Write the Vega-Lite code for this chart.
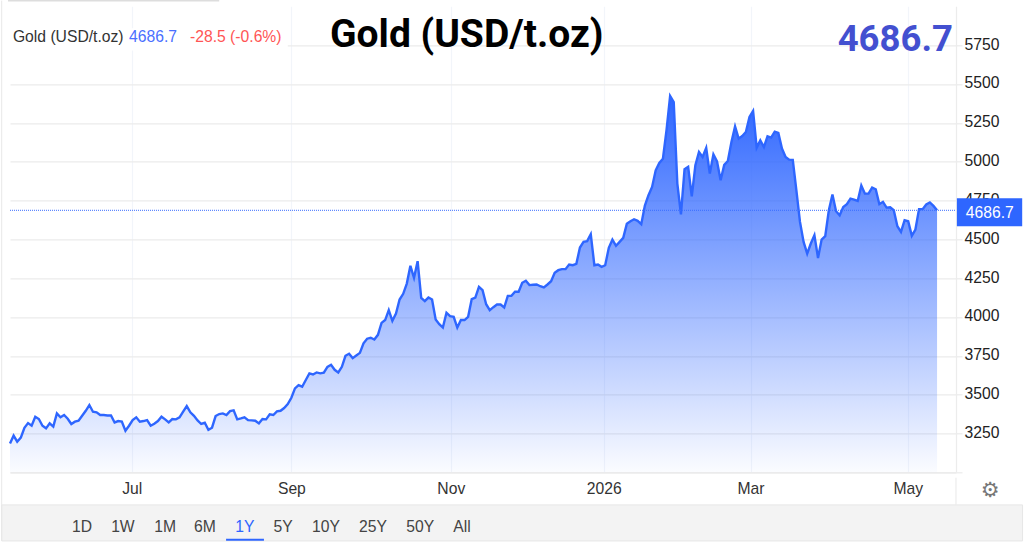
{
  "$schema": "https://vega.github.io/schema/vega-lite/v6.json",
  "description": "Gold (USD/t.oz), one year of sessions up to May 2026",
  "width": 946,
  "height": 466,
  "autosize": "none",
  "padding": {"left": 10, "top": 6.3, "right": 68, "bottom": 74.7},
  "background": "white",
  "config": {"view": {"stroke": null}, "font": "Liberation Sans"},
  "datasets": {
    "one": [{}],
    "gold": [
      {"i":0,"v":3186},{"i":1,"v":3236},{"i":2,"v":3197},{"i":3,"v":3223},{"i":4,"v":3287},{"i":5,"v":3317},{"i":6,"v":3300},{"i":7,"v":3358},{"i":8,"v":3343},{"i":9,"v":3300},
      {"i":10,"v":3283},{"i":11,"v":3315},{"i":12,"v":3294},{"i":13,"v":3379},{"i":14,"v":3354},{"i":15,"v":3369},{"i":16,"v":3345},{"i":17,"v":3311},{"i":18,"v":3326},{"i":19,"v":3332},
      {"i":20,"v":3364},{"i":21,"v":3396},{"i":22,"v":3433},{"i":23,"v":3390},{"i":24,"v":3386},{"i":25,"v":3369},{"i":26,"v":3369},{"i":27,"v":3366},{"i":28,"v":3366},{"i":29,"v":3321},
      {"i":30,"v":3330},{"i":31,"v":3326},{"i":32,"v":3268},{"i":33,"v":3300},{"i":34,"v":3336},{"i":35,"v":3354},{"i":36,"v":3326},{"i":37,"v":3330},{"i":38,"v":3336},{"i":39,"v":3300},
      {"i":40,"v":3313},{"i":41,"v":3330},{"i":42,"v":3358},{"i":43,"v":3341},{"i":44,"v":3321},{"i":45,"v":3343},{"i":46,"v":3341},{"i":47,"v":3354},{"i":48,"v":3390},{"i":49,"v":3426},
      {"i":50,"v":3386},{"i":51,"v":3364},{"i":52,"v":3334},{"i":53,"v":3311},{"i":54,"v":3319},{"i":55,"v":3274},{"i":56,"v":3287},{"i":57,"v":3362},{"i":58,"v":3375},{"i":59,"v":3379},
      {"i":60,"v":3369},{"i":61,"v":3394},{"i":62,"v":3399},{"i":63,"v":3341},{"i":64,"v":3347},{"i":65,"v":3354},{"i":66,"v":3336},{"i":67,"v":3334},{"i":68,"v":3332},{"i":69,"v":3315},
      {"i":70,"v":3343},{"i":71,"v":3341},{"i":72,"v":3373},{"i":73,"v":3369},{"i":74,"v":3392},{"i":75,"v":3396},{"i":76,"v":3414},{"i":77,"v":3439},{"i":78,"v":3480},{"i":79,"v":3540},
      {"i":80,"v":3561},{"i":81,"v":3551},{"i":82,"v":3594},{"i":83,"v":3637},{"i":84,"v":3630},{"i":85,"v":3643},{"i":86,"v":3637},{"i":87,"v":3641},{"i":88,"v":3679},{"i":89,"v":3692},
      {"i":90,"v":3660},{"i":91,"v":3643},{"i":92,"v":3679},{"i":93,"v":3750},{"i":94,"v":3763},{"i":95,"v":3735},{"i":96,"v":3752},{"i":97,"v":3769},{"i":98,"v":3830},{"i":99,"v":3860},
      {"i":100,"v":3866},{"i":101,"v":3855},{"i":102,"v":3885},{"i":103,"v":3962},{"i":104,"v":3980},{"i":105,"v":4044},{"i":106,"v":3975},{"i":107,"v":4022},{"i":108,"v":4112},{"i":109,"v":4149},
      {"i":110,"v":4215},{"i":111,"v":4329},{"i":112,"v":4252},{"i":113,"v":4359},{"i":114,"v":4123},{"i":115,"v":4102},{"i":116,"v":4125},{"i":117,"v":4112},{"i":118,"v":3984},{"i":119,"v":3954},
      {"i":120,"v":3932},{"i":121,"v":4027},{"i":122,"v":4005},{"i":123,"v":4001},{"i":124,"v":3932},{"i":125,"v":3980},{"i":126,"v":3980},{"i":127,"v":4001},{"i":128,"v":4115},{"i":129,"v":4125},
      {"i":130,"v":4194},{"i":131,"v":4172},{"i":132,"v":4082},{"i":133,"v":4044},{"i":134,"v":4063},{"i":135,"v":4080},{"i":136,"v":4080},{"i":137,"v":4061},{"i":138,"v":4136},{"i":139,"v":4136},
      {"i":140,"v":4162},{"i":141,"v":4162},{"i":142,"v":4220},{"i":143,"v":4233},{"i":144,"v":4205},{"i":145,"v":4207},{"i":146,"v":4209},{"i":147,"v":4198},{"i":148,"v":4190},{"i":149,"v":4209},
      {"i":150,"v":4230},{"i":151,"v":4284},{"i":152,"v":4301},{"i":153,"v":4308},{"i":154,"v":4308},{"i":155,"v":4338},{"i":156,"v":4333},{"i":157,"v":4342},{"i":158,"v":4447},{"i":159,"v":4483},
      {"i":160,"v":4488},{"i":161,"v":4533},{"i":162,"v":4333},{"i":163,"v":4338},{"i":164,"v":4323},{"i":165,"v":4333},{"i":166,"v":4445},{"i":167,"v":4498},{"i":168,"v":4458},{"i":169,"v":4483},
      {"i":170,"v":4509},{"i":171,"v":4600},{"i":172,"v":4616},{"i":173,"v":4629},{"i":174,"v":4619},{"i":175,"v":4597},{"i":176,"v":4717},{"i":177,"v":4784},{"i":178,"v":4837},{"i":179,"v":4944},
      {"i":180,"v":4992},{"i":181,"v":5019},{"i":182,"v":5202},{"i":183,"v":5423},{"i":184,"v":5384},{"i":185,"v":4859},{"i":186,"v":4661},{"i":187,"v":4951},{"i":188,"v":4966},{"i":189,"v":4777},
      {"i":190,"v":4977},{"i":191,"v":5062},{"i":192,"v":5030},{"i":193,"v":5088},{"i":194,"v":4923},{"i":195,"v":5047},{"i":196,"v":5002},{"i":197,"v":4880},{"i":198,"v":4979},{"i":199,"v":5004},
      {"i":200,"v":5127},{"i":201,"v":5227},{"i":202,"v":5148},{"i":203,"v":5165},{"i":204,"v":5191},{"i":205,"v":5287},{"i":206,"v":5326},{"i":207,"v":5090},{"i":208,"v":5137},{"i":209,"v":5094},
      {"i":210,"v":5163},{"i":211,"v":5155},{"i":212,"v":5193},{"i":213,"v":5185},{"i":214,"v":5084},{"i":215,"v":5030},{"i":216,"v":5013},{"i":217,"v":5011},{"i":218,"v":4815},{"i":219,"v":4612},
      {"i":220,"v":4483},{"i":221,"v":4408},{"i":222,"v":4473},{"i":223,"v":4526},{"i":224,"v":4380},{"i":225,"v":4498},{"i":226,"v":4520},{"i":227,"v":4687},{"i":228,"v":4788},{"i":229,"v":4681},
      {"i":230,"v":4655},{"i":231,"v":4708},{"i":232,"v":4726},{"i":233,"v":4762},{"i":234,"v":4756},{"i":235,"v":4747},{"i":236,"v":4846},{"i":237,"v":4794},{"i":238,"v":4794},{"i":239,"v":4833},
      {"i":240,"v":4822},{"i":241,"v":4726},{"i":242,"v":4741},{"i":243,"v":4704},{"i":244,"v":4706},{"i":245,"v":4687},{"i":246,"v":4584},{"i":247,"v":4548},{"i":248,"v":4623},{"i":249,"v":4616},
      {"i":250,"v":4522},{"i":251,"v":4563},{"i":252,"v":4694},{"i":253,"v":4694},{"i":254,"v":4724},{"i":255,"v":4737},{"i":256,"v":4715},{"i":257,"v":4686.7}
    ]
  },
  "encoding": {
    "x": {
      "type": "quantitative",
      "scale": {"domain": [0, 262.25], "nice": false, "zero": false},
      "axis": {
        "title": null,
        "values": [33.75, 78, 122.2, 164.6, 205.3, 248.9],
        "labelExpr": "datum.value < 50 ? 'Jul' : datum.value < 100 ? 'Sep' : datum.value < 140 ? 'Nov' : datum.value < 180 ? '2026' : datum.value < 230 ? 'Mar' : 'May'",
        "grid": true,
        "gridColor": "#f2f5fa",
        "gridWidth": 1.2,
        "domainColor": "#ececec",
        "domainWidth": 1.5,
        "ticks": false,
        "labelPadding": 9,
        "labelFontSize": 15.7,
        "labelColor": "#333333",
        "labelFont": "Liberation Sans"
      }
    },
    "y": {
      "type": "quantitative",
      "scale": {"domain": [3000, 6000], "nice": false, "zero": false},
      "axis": {
        "orient": "right",
        "title": null,
        "values": [3000, 3250, 3500, 3750, 4000, 4250, 4500, 4750, 5000, 5250, 5500, 5750],
        "labelExpr": "datum.value == 3000 ? '' : datum.value",
        "grid": true,
        "gridColor": "#ebebeb",
        "gridWidth": 1.3,
        "domainColor": "#ececec",
        "domainWidth": 1.2,
        "tickColor": "#ececec",
        "tickSize": 6,
        "tickWidth": 1.3,
        "labelPadding": 2,
        "labelOffset": -1,
        "labelFontSize": 15.7,
        "labelColor": "#222222",
        "labelFont": "Liberation Sans"
      }
    }
  },
  "layer": [
    {
      "data": {"name": "gold"},
      "mark": {
        "type": "area",
        "line": false,
        "color": {
          "gradient": "linear",
          "x1": 0, "y1": 0, "x2": 0, "y2": 1,
          "stops": [
            {"offset": 0, "color": "rgba(46,102,255,1)"},
            {"offset": 1, "color": "rgba(46,102,255,0.02)"}
          ]
        }
      },
      "encoding": {"x": {"field": "i"}, "y": {"field": "v"}, "y2": {"datum": 3000}}
    },
    {
      "data": {"name": "gold"},
      "mark": {"type": "line", "color": "#2e66ff", "strokeWidth": 2.4},
      "encoding": {"x": {"field": "i"}, "y": {"field": "v"}}
    },
    {
      "data": {"name": "one"},
      "mark": {"type": "rule", "color": "#3a6dff", "strokeDash": [1, 1], "strokeWidth": 1},
      "encoding": {"x": {"datum": 0}, "x2": {"datum": 262.25}, "y": {"datum": 4686.7}}
    },
    {
      "data": {"name": "one"},
      "mark": {"type": "rect", "color": "white"},
      "encoding": {"x": {"datum": 0}, "x2": {"datum": 77}, "y": {"datum": 5716}, "y2": {"datum": 5858}}
    },
    {
      "data": {"name": "one"},
      "mark": {"type": "rect", "color": "#2e66ff"},
      "encoding": {"x": {"datum": 262.5}, "x2": {"datum": 280.6}, "y": {"datum": 4584}, "y2": {"datum": 4764}}
    },
    {
      "data": {"name": "one"},
      "mark": {"type": "text", "color": "white", "fontSize": 15.7},
      "encoding": {"x": {"datum": 271.6}, "y": {"datum": 4672}, "text": {"value": "4686.7"}}
    },
    {
      "data": {"name": "one"},
      "mark": {"type": "text", "align": "left", "color": "#333333", "fontSize": 15.7},
      "encoding": {"x": {"datum": 0.8}, "y": {"datum": 5800}, "text": {"value": "Gold (USD/t.oz)"}}
    },
    {
      "data": {"name": "one"},
      "mark": {"type": "text", "align": "left", "color": "#4a6fff", "fontSize": 15.7},
      "encoding": {"x": {"datum": 33}, "y": {"datum": 5800}, "text": {"value": "4686.7"}}
    },
    {
      "data": {"name": "one"},
      "mark": {"type": "text", "align": "left", "color": "#ff5555", "fontSize": 15.7},
      "encoding": {"x": {"datum": 49.9}, "y": {"datum": 5800}, "text": {"value": "-28.5 (-0.6%)"}}
    },
    {
      "data": {"name": "one"},
      "mark": {"type": "text", "align": "left", "font": "Roboto", "fontWeight": "bold", "color": "black", "fontSize": 39},
      "encoding": {"x": {"datum": 88.7}, "y": {"datum": 5813}, "text": {"value": "Gold (USD/t.oz)"}}
    },
    {
      "data": {"name": "one"},
      "mark": {"type": "text", "align": "right", "font": "Roboto", "fontWeight": "bold", "color": "#4350d0", "fontSize": 36.5},
      "encoding": {"x": {"datum": 261.4}, "y": {"datum": 5785}, "text": {"value": "4686.7"}}
    },
    {
      "data": {"name": "one"},
      "mark": {"type": "rect", "color": "#f3f3f3", "stroke": "#e6e6e6", "strokeWidth": 1},
      "encoding": {"x": {"datum": -2.3}, "x2": {"datum": 280.7}, "y": {"datum": 2790}, "y2": {"datum": 2558}}
    },
    {
      "data": {"name": "one"},
      "mark": {"type": "rule", "color": "#e8e8e8", "strokeWidth": 1},
      "encoding": {"x": {"datum": -2.3}, "y": {"datum": 6037}, "y2": {"datum": 2558}}
    },
    {
      "data": {"name": "one"},
      "mark": {"type": "rule", "color": "#dddddd", "strokeWidth": 2},
      "encoding": {"x": {"datum": -0.55}, "x2": {"datum": 58}, "y": {"datum": 6037}}
    },
    {
      "data": {"name": "one"},
      "mark": {"type": "rule", "color": "#ececec", "strokeWidth": 1.2},
      "encoding": {"x": {"datum": 262.25}, "y": {"datum": 2965}, "y2": {"datum": 2790}}
    },
    {
      "data": {"name": "one"},
      "mark": {"type": "text", "font": "DejaVu Sans", "color": "#777777", "fontSize": 21},
      "encoding": {"x": {"datum": 271.7}, "y": {"datum": 2880}, "text": {"value": "⚙"}}
    },
    {
      "data": {"name": "one"},
      "mark": {"type": "rule", "color": "#2e66ff", "strokeWidth": 2},
      "encoding": {"x": {"datum": 59.9}, "x2": {"datum": 70.4}, "y": {"datum": 2565}}
    },
    {"data": {"name": "one"}, "mark": {"type": "text", "color": "#444444", "fontSize": 15.7}, "encoding": {"x": {"datum": 20}, "y": {"datum": 2650}, "text": {"value": "1D"}}},
    {"data": {"name": "one"}, "mark": {"type": "text", "color": "#444444", "fontSize": 15.7}, "encoding": {"x": {"datum": 31.3}, "y": {"datum": 2650}, "text": {"value": "1W"}}},
    {"data": {"name": "one"}, "mark": {"type": "text", "color": "#444444", "fontSize": 15.7}, "encoding": {"x": {"datum": 43}, "y": {"datum": 2650}, "text": {"value": "1M"}}},
    {"data": {"name": "one"}, "mark": {"type": "text", "color": "#444444", "fontSize": 15.7}, "encoding": {"x": {"datum": 54}, "y": {"datum": 2650}, "text": {"value": "6M"}}},
    {"data": {"name": "one"}, "mark": {"type": "text", "color": "#2e66ff", "fontSize": 15.7}, "encoding": {"x": {"datum": 65.1}, "y": {"datum": 2650}, "text": {"value": "1Y"}}},
    {"data": {"name": "one"}, "mark": {"type": "text", "color": "#444444", "fontSize": 15.7}, "encoding": {"x": {"datum": 75.7}, "y": {"datum": 2650}, "text": {"value": "5Y"}}},
    {"data": {"name": "one"}, "mark": {"type": "text", "color": "#444444", "fontSize": 15.7}, "encoding": {"x": {"datum": 87.6}, "y": {"datum": 2650}, "text": {"value": "10Y"}}},
    {"data": {"name": "one"}, "mark": {"type": "text", "color": "#444444", "fontSize": 15.7}, "encoding": {"x": {"datum": 100.6}, "y": {"datum": 2650}, "text": {"value": "25Y"}}},
    {"data": {"name": "one"}, "mark": {"type": "text", "color": "#444444", "fontSize": 15.7}, "encoding": {"x": {"datum": 113.7}, "y": {"datum": 2650}, "text": {"value": "50Y"}}},
    {"data": {"name": "one"}, "mark": {"type": "text", "color": "#444444", "fontSize": 15.7}, "encoding": {"x": {"datum": 125.3}, "y": {"datum": 2650}, "text": {"value": "All"}}}
  ]
}
